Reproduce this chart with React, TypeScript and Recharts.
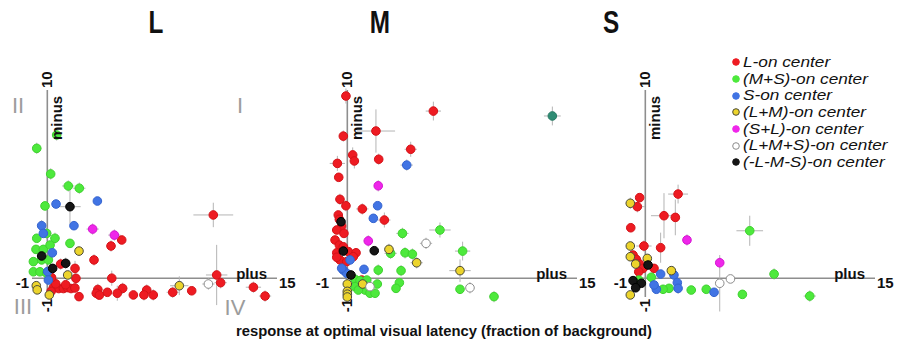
import React from 'react';
import { ScatterChart, Scatter, XAxis, YAxis, ReferenceLine, ErrorBar, Legend } from 'recharts';

// Each point: [x, y, x error, y error], response as fraction of background
type Pt = [number, number, number, number];

// ── L cone ────────────────────────────────────────────────────────────────────
const L_RED: Pt[] = [
  [10.84, 3.36, 1.3, 0.65], [11.06, 0.17, 0.7, 1.6], [11.32, -0.24, 0.4, 0.3],
  [13.46, -0.48, 0.5, 0.3], [14.22, -0.95, 0.4, 0.3], [9.43, -0.67, 0.2, 0.2],
  [8.19, -0.75, 0.4, 0.3], [6.92, -0.89, 0.3, 0.3], [6.49, -0.63, 0.3, 0.3],
  [6.31, -0.89, 0.3, 0.3], [5.62, -0.89, 0.3, 0.2], [4.92, -0.54, 0.3, 0.3],
  [4.57, -0.8, 0.3, 0.4], [3.92, -0.75, 0.3, 0.2], [3.3, -0.6, 0.3, 0.3],
  [3.2, -0.8, 0.3, 0.3], [3.4, -0.9, 0.2, 0.2], [4.21, 0.0, 0.3, 0.4],
  [4.86, 2.03, 0.2, 0.2], [4.16, 1.71, 0.3, 0.3], [3.05, 0.97, 0.2, 0.3],
  [0.87, 0.75, 0.3, 0.3], [1.81, 0.52, 0.2, 0.4], [1.87, -0.01, 0.2, 0.3],
  [2.07, -0.98, 0.2, 0.2], [0.4, -0.5, 0.2, 0.2], [0.75, -0.55, 0.2, 0.2],
  [1.05, -0.55, 0.2, 0.2], [1.3, -0.5, 0.2, 0.2], [1.55, -0.55, 0.2, 0.2],
  [1.8, -0.52, 0.2, 0.2], [0.55, -0.3, 0.2, 0.2], [0.25, -0.7, 0.2, 0.2],
  [1.2, -0.35, 0.2, 0.2], [0.28, 0.03, 0.2, 0.2],
];
const L_GREEN: Pt[] = [
  [-0.69, 6.9, 0.3, 0.3], [0.61, 7.61, 0.3, 0.3], [0.22, 5.54, 0.2, 0.3],
  [1.37, 4.9, 0.4, 0.3], [2.09, 4.78, 0.4, 0.3], [-0.15, 3.84, 0.2, 0.2],
  [-0.04, 2.38, 0.3, 0.3], [0.5, 2.12, 0.3, 0.3], [-0.69, 2.12, 0.2, 0.2],
  [1.48, 1.85, 0.2, 0.2], [-0.74, 1.53, 0.2, 0.2], [-0.26, 1.53, 0.2, 0.2],
  [0.18, 1.76, 0.2, 0.2], [-0.91, 0.88, 0.2, 0.2], [-0.37, 0.97, 0.2, 0.2],
  [0.07, 0.97, 0.2, 0.2], [-0.91, 0.34, 0.2, 0.2], [-0.48, 0.34, 0.2, 0.2],
  [-0.04, 0.26, 0.2, 0.2],
];
const L_BLUE: Pt[] = [
  [0.57, 3.94, 0.2, 0.2], [3.27, 4.1, 0.2, 0.2], [-0.37, 2.79, 0.3, 0.3],
  [-0.26, 2.38, 0.2, 0.2], [1.74, 2.79, 0.2, 0.2], [0.33, 1.35, 0.2, 0.3],
  [0.02, 0.35, 0.2, 0.2], [0.07, -0.1, 0.2, 0.2],
];
const L_YELLOW: Pt[] = [
  [2.07, 1.44, 0.2, 0.2], [1.33, 0.17, 0.2, 0.2], [-0.72, -0.4, 0.2, 0.2],
  [-0.66, -0.62, 0.2, 0.2], [0.13, -0.89, 0.2, 0.2], [8.62, -0.4, 0.6, 0.5],
];
const L_MAGENTA: Pt[] = [[2.96, 2.61, 0.4, 0.3], [4.38, 2.29, 0.4, 0.3]];
const L_OPEN: Pt[] = [[10.52, -0.31, 0.4, 0.3]];
const L_BLACK: Pt[] = [
  [1.48, 3.8, 0.7, 0.9], [-0.37, 1.18, 0.2, 0.2], [0.35, 0.52, 0.2, 0.2],
  [1.2, 0.79, 0.3, 0.3],
];

// ── M cone ────────────────────────────────────────────────────────────────────
const M_RED: Pt[] = [
  [-0.09, 9.68, 0.3, 0.4], [5.62, 8.88, 0.5, 0.5], [1.87, 7.82, 1.25, 1.15],
  [4.14, 6.85, 0.4, 0.4], [-0.26, 7.55, 0.2, 0.3], [0.35, 6.55, 0.3, 0.4],
  [0.46, 6.23, 0.3, 0.4], [-0.65, 6.1, 0.5, 0.4], [2.05, 6.32, 0.2, 0.3],
  [-0.56, 5.36, 0.2, 0.2], [-0.48, 4.19, 0.3, 0.3], [-0.09, 3.85, 0.3, 0.3],
  [0.98, 3.68, 0.4, 0.3], [2.42, 3.09, 0.4, 0.4], [-0.59, 3.36, 0.2, 0.2],
  [-0.52, 3.13, 0.2, 0.2], [-0.37, 2.77, 0.2, 0.2], [-0.69, 2.56, 0.2, 0.2],
  [-0.22, 2.38, 0.2, 0.2], [-0.8, 2.03, 0.2, 0.2], [-0.52, 1.76, 0.2, 0.2],
  [-0.26, 1.67, 0.2, 0.2], [-0.69, 1.35, 0.2, 0.2], [0.07, 1.41, 0.2, 0.2],
  [0.57, 1.35, 0.2, 0.2], [0.39, 1.14, 0.2, 0.2], [-0.48, 0.97, 0.2, 0.2],
  [-0.69, 1.11, 0.2, 0.2], [-0.04, 0.88, 0.2, 0.2], [0.94, -0.1, 0.2, 0.2],
];
const M_GREEN: Pt[] = [
  [3.6, 2.38, 0.4, 0.3], [6.05, 2.56, 0.7, 0.4], [7.53, 1.44, 0.5, 0.5],
  [3.77, 1.35, 0.2, 0.3], [4.25, 1.28, 0.2, 0.3], [2.83, 1.32, 0.4, 0.3],
  [2.02, 0.43, 0.2, 0.3], [3.51, 0.4, 0.2, 0.3], [3.4, -0.24, 0.2, 0.2],
  [3.18, -0.54, 0.2, 0.2], [7.36, -0.59, 0.2, 0.2], [9.58, -0.98, 0.3, 0.3],
  [0.5, -0.06, 0.2, 0.2], [0.83, -0.13, 0.2, 0.2], [1.27, -0.1, 0.2, 0.2],
  [0.5, -0.45, 0.2, 0.2], [1.16, -0.63, 0.2, 0.2], [1.48, -0.8, 0.2, 0.2],
  [1.81, -0.8, 0.2, 0.2], [1.96, -0.31, 0.2, 0.2], [0.72, -0.63, 0.2, 0.2],
];
const M_BLUE: Pt[] = [
  [3.88, 6.01, 0.4, 0.3], [1.98, 3.85, 0.2, 0.2], [1.7, 3.18, 0.2, 0.2],
  [0.18, 0.97, 0.2, 0.2], [-0.26, 0.43, 0.2, 0.2], [-0.04, 0.26, 0.2, 0.2],
  [-0.37, 0.53, 0.2, 0.2], [1.09, 0.47, 0.2, 0.2],
];
const M_YELLOW: Pt[] = [
  [2.72, 1.53, 0.3, 0.3], [4.53, 0.82, 0.4, 0.3], [7.36, 0.4, 0.7, 0.6],
  [1.0, -0.31, 0.2, 0.2], [0.0, -0.31, 0.2, 0.2], [0.0, -0.7, 0.2, 0.2],
  [0.0, -0.85, 0.2, 0.2], [0.0, -1.0, 0.2, 0.2],
];
const M_MAGENTA: Pt[] = [[2.02, 4.91, 0.2, 0.3], [1.37, 1.98, 0.3, 0.3]];
const M_OPEN: Pt[] = [[5.14, 1.85, 0.4, 0.3], [8.01, -0.51, 0.3, 0.3], [1.48, -0.45, 0.2, 0.2]];
const M_BLACK: Pt[] = [
  [-0.41, 3.0, 0.2, 0.2], [-0.26, 1.44, 0.2, 0.2], [1.76, 1.46, 0.2, 0.2],
  [0.24, 0.17, 0.2, 0.2],
];
const M_TEAL: Pt[] = [[13.39, 8.62, 0.55, 0.5]];

// ── S cone ────────────────────────────────────────────────────────────────────
const S_RED: Pt[] = [
  [2.14, 4.47, 0.65, 0.5], [-0.37, 4.28, 0.2, 0.2], [-0.52, 3.8, 0.5, 0.3],
  [1.22, 3.32, 0.85, 1.2], [1.96, 3.23, 0.3, 0.95], [-0.95, 2.68, 0.2, 0.2],
  [-0.09, 1.71, 0.5, 0.3], [1.0, 1.62, 0.3, 0.8], [-0.8, 1.23, 0.2, 0.2],
  [-0.59, 1.0, 0.2, 0.2], [-0.37, 0.75, 0.2, 0.2], [-0.15, 0.52, 0.2, 0.2],
  [-0.43, 0.34, 0.2, 0.2], [0.57, 0.52, 0.2, 0.2],
];
const S_GREEN: Pt[] = [
  [6.82, 2.52, 0.87, 0.8], [8.41, 0.22, 0.3, 0.3], [10.74, -0.95, 0.4, 0.3],
  [6.34, -0.86, 0.2, 0.2], [3.98, -0.59, 0.2, 0.2], [3.0, -0.63, 0.3, 0.2],
  [1.55, -0.54, 0.2, 0.2], [1.16, -0.59, 0.2, 0.2], [0.39, 0.05, 0.2, 0.2],
  [-0.43, -0.1, 0.2, 0.2],
];
const S_BLUE: Pt[] = [
  [1.0, 0.22, 0.2, 0.2], [1.87, 0.17, 0.2, 0.3], [2.09, -0.24, 0.2, 0.2],
  [2.14, -0.54, 0.2, 0.3], [0.72, -0.59, 0.2, 0.2], [0.57, -0.36, 0.2, 0.2],
  [4.49, -0.75, 0.2, 0.2],
];
const S_YELLOW: Pt[] = [
  [-0.98, 3.98, 0.3, 0.3], [-0.98, 1.71, 0.2, 0.2], [-0.98, 1.14, 0.2, 0.2],
  [-0.63, 0.75, 0.2, 0.2], [0.13, 1.05, 0.2, 0.2], [1.7, 0.4, 0.2, 0.2],
  [-0.98, -0.89, 0.2, 0.2],
];
const S_MAGENTA: Pt[] = [[2.72, 2.03, 0.2, 0.3], [4.86, 0.82, 0.2, 0.3]];
const S_OPEN: Pt[] = [[4.86, -0.27, 0.2, 1.5], [5.56, -0.04, 0.2, 0.2]];
const S_BLACK: Pt[] = [
  [0.18, 0.7, 0.2, 0.2], [-0.8, -0.13, 0.2, 0.2], [-0.26, -0.27, 0.2, 0.2],
  [-0.63, -0.51, 0.2, 0.2],
];

// ── Cell classes ──────────────────────────────────────────────────────────────
const GROUPS = [
  { key: 'red', name: 'L-on center', fill: '#ee1b22', stroke: '#d41218' },
  { key: 'green', name: '(M+S)-on center', fill: '#4de93c', stroke: '#3fd12f' },
  { key: 'blue', name: 'S-on center', fill: '#4174e4', stroke: '#3464d0' },
  { key: 'yellow', name: '(L+M)-on center', fill: '#ecd42c', stroke: '#4a4a3a' },
  { key: 'magenta', name: '(S+L)-on center', fill: '#ef26ea', stroke: '#d414d0' },
  { key: 'open', name: '(L+M+S)-on center', fill: '#ffffff', stroke: '#8c8c8c' },
  { key: 'black', name: '(-L-M-S)-on center', fill: '#151515', stroke: '#000000' },
  { key: 'teal', name: 'unclassified', fill: '#2f8c74', stroke: '#277a64' },
];

// axis extent drawn in each panel
const X_MIN = -1;
const X_MAX = 15;
const Y_MIN = -1;
const Y_MAX = 10;
// one extra unit of room around the axes so edge markers are not clipped
const PAD = 1;

const PANELS = [
  {
    title: 'L', left: 0, plotLeft: 32, titleX: 156, quadrants: true, legend: false,
    series: { red: L_RED, green: L_GREEN, blue: L_BLUE, yellow: L_YELLOW, magenta: L_MAGENTA, open: L_OPEN, black: L_BLACK } as Record<string, Pt[]>,
  },
  {
    title: 'M', left: 300, plotLeft: 32, titleX: 80, quadrants: false, legend: false,
    series: { red: M_RED, green: M_GREEN, blue: M_BLUE, yellow: M_YELLOW, magenta: M_MAGENTA, open: M_OPEN, black: M_BLACK, teal: M_TEAL } as Record<string, Pt[]>,
  },
  {
    title: 'S', left: 600, plotLeft: 30, titleX: 11, quadrants: false, legend: true,
    series: { red: S_RED, green: S_GREEN, blue: S_BLUE, yellow: S_YELLOW, magenta: S_MAGENTA, open: S_OPEN, black: S_BLACK } as Record<string, Pt[]>,
  },
];

// panel frame: axis box from (plotLeft, PLOT_TOP) to (plotLeft + PLOT_W, PLOT_BOTTOM)
const PANEL_W = 300;
const H = 346;
const PLOT_TOP = 90;
const PLOT_BOTTOM = 297;
const PLOT_W = 245;
const UX = PLOT_W / (X_MAX - X_MIN);
const UY = (PLOT_BOTTOM - PLOT_TOP) / (Y_MAX - Y_MIN);

const FONT = "'Liberation Sans', Arial, Helvetica, sans-serif";
const AXIS_GREY = '#8e8e8e';
const ROMAN_GREY = '#9c9c9c';

const toRows = (pts: Pt[]) => pts.map(([x, y, ex, ey]) => ({ x, y, ex, ey }));

const dotShape = (fill: string, stroke: string) => (props: any) => (
  <circle cx={props.cx} cy={props.cy} r={4.3} fill={fill} stroke={stroke} strokeWidth={1} />
);

const groupIndex = (name: string) => GROUPS.findIndex((g) => g.name === name);

const ROW_H = 16.7;

function LegendBox(props: any) {
  const payload = ([...(props.payload || [])] as any[])
    .filter((e) => groupIndex(e.value) >= 0)
    .sort((a, b) => groupIndex(a.value) - groupIndex(b.value));
  return (
    <div style={{ fontFamily: FONT, fontStyle: 'italic', fontSize: 14.6, color: '#111', lineHeight: `${ROW_H}px` }}>
      {payload.map((entry) => {
        const g = GROUPS[groupIndex(entry.value)];
        return (
          <div key={g.key} style={{ display: 'flex', alignItems: 'center', height: ROW_H, whiteSpace: 'nowrap' }}>
            <svg width={11} height={10} style={{ flex: 'none' }}>
              <circle cx={4} cy={5} r={3.3} fill={g.fill} stroke={g.key === 'yellow' || g.key === 'open' ? g.stroke : g.fill} strokeWidth={1} />
            </svg>
            {/* the legend lettering is set wide */}
            <span style={{ display: 'inline-block', transform: 'scaleX(1.18)', transformOrigin: 'left center' }}>{entry.value}</span>
          </div>
        );
      })}
    </div>
  );
}

function PanelText({ plotLeft, title, titleX, quadrants }: { plotLeft: number; title: string; titleX: number; quadrants: boolean }) {
  const sx = (v: number) => plotLeft + (v - X_MIN) * UX;
  const sy = (v: number) => PLOT_BOTTOM - (v - Y_MIN) * UY;
  const x0 = sx(0);
  const y0 = 283;
  const bold = { fontFamily: FONT, fontWeight: 700, fontSize: 15, fill: '#111' } as const;
  const roman = { fontFamily: FONT, fontSize: 22, fill: ROMAN_GREY, textAnchor: 'middle' } as const;
  return (
    <svg width={PANEL_W} height={H} style={{ position: 'absolute', left: 0, top: 0, pointerEvents: 'none', overflow: 'visible' }}>
      <text x={titleX} y={33} textAnchor="middle" transform={`translate(${titleX} 0) scale(0.76 1) translate(${-titleX} 0)`}
        style={{ fontFamily: FONT, fontWeight: 700, fontSize: 32, fill: '#111' }}>{title}</text>

      {/* y-axis end labels, rotated */}
      <text transform={`translate(${x0 + 5} ${sy(Y_MAX) - 2}) rotate(-90)`} textAnchor="start" style={bold}>10</text>
      <text transform={`translate(${x0 + 15} ${sy(Y_MAX) + 50}) rotate(-90)`} textAnchor="start" style={bold}>minus</text>
      <text transform={`translate(${x0 + 5} ${sy(Y_MIN) + 2}) rotate(-90)`} textAnchor="end" style={bold}>-1</text>

      {/* x-axis end labels */}
      <text x={sx(X_MIN) - 3} y={y0 + 5} textAnchor="end" style={bold}>-1</text>
      <text x={sx(X_MAX) + 2} y={y0 + 5} textAnchor="start" style={bold}>15</text>
      <text x={sx(X_MAX) - 10} y={y0 - 4} textAnchor="end" style={bold}>plus</text>

      {quadrants && (
        <g>
          <text x={18} y={113} style={roman}>II</text>
          <text x={240} y={113} style={roman}>I</text>
          <text x={23} y={314} style={roman}>III</text>
          <text x={235} y={315} style={roman}>IV</text>
        </g>
      )}
    </svg>
  );
}

function Panel({ panel }: { panel: (typeof PANELS)[number] }) {
  const left = panel.plotLeft - PAD * UX;
  const right = PANEL_W - (panel.plotLeft + PLOT_W + PAD * UX);
  const top = PLOT_TOP - PAD * UY;
  const bottom = H - (PLOT_BOTTOM + PAD * UY);
  return (
    <div style={{ position: 'absolute', left: panel.left, top: 0, width: PANEL_W, height: H }}>
      <ScatterChart width={PANEL_W} height={H} margin={{ top, right, bottom, left }}>
        <XAxis type="number" dataKey="x" domain={[X_MIN - PAD, X_MAX + PAD]} allowDataOverflow hide />
        <YAxis type="number" dataKey="y" domain={[Y_MIN - PAD, Y_MAX + PAD]} allowDataOverflow hide />
        <ReferenceLine segment={[{ x: X_MIN, y: 0 }, { x: X_MAX, y: 0 }]} stroke={AXIS_GREY} strokeWidth={1.6} />
        <ReferenceLine segment={[{ x: 0, y: Y_MIN }, { x: 0, y: Y_MAX }]} stroke={AXIS_GREY} strokeWidth={1.6} />
        {GROUPS.filter((g) => panel.series[g.key]).map((g) => (
          <Scatter
            key={g.key}
            name={g.name}
            data={toRows(panel.series[g.key])}
            fill={g.fill}
            shape={dotShape(g.fill, g.stroke)}
            legendType={g.key === 'teal' ? 'none' : 'circle'}
            isAnimationActive={false}
          >
            <ErrorBar dataKey="ex" direction="x" width={0} stroke="#b4b4b4" strokeWidth={1} />
            <ErrorBar dataKey="ey" direction="y" width={0} stroke="#b4b4b4" strokeWidth={1} />
          </Scatter>
        ))}
        {panel.legend && (
          <Legend
            layout="vertical"
            align="center"
            verticalAlign="middle"
            wrapperStyle={{ left: 132, top: 54, width: 165 }}
            content={LegendBox}
          />
        )}
      </ScatterChart>
      <PanelText plotLeft={panel.plotLeft} title={panel.title} titleX={panel.titleX} quadrants={panel.quadrants} />
    </div>
  );
}

export default function App() {
  return (
    <div style={{ position: 'absolute', left: 0, top: 0, width: 909, height: H, background: '#fff', overflow: 'hidden' }}>
      {PANELS.map((p) => (
        <Panel key={p.title} panel={p} />
      ))}
      <div style={{ position: 'absolute', left: 194, top: 323, width: 500, textAlign: 'center', fontFamily: FONT, fontWeight: 700, fontSize: 14.8, color: '#111' }}>
        response at optimal visual latency (fraction of background)
      </div>
    </div>
  );
}
